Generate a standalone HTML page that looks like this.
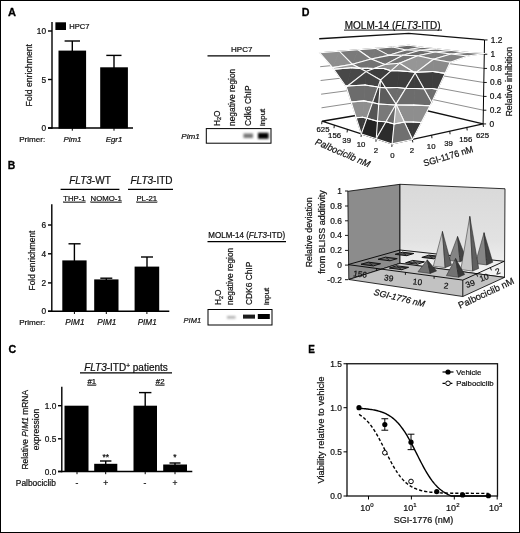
<!DOCTYPE html>
<html><head><meta charset="utf-8"><title>Figure</title>
<style>
html,body{margin:0;padding:0;background:#fff;}
body{width:520px;height:533px;overflow:hidden;font-family:"Liberation Sans",sans-serif;}
svg{display:block;filter:blur(0.3px);}
svg text{font-family:"Liberation Sans",sans-serif;stroke:#111;stroke-width:0.22px;}
svg text[font-weight="bold"]{stroke:#000;stroke-width:0.3px;}
</style></head><body>
<svg width="520" height="533" viewBox="0 0 520 533">
<rect x="0" y="0" width="520" height="533" fill="#fff"/>
<rect x="0.5" y="0.5" width="519" height="532" fill="none" stroke="#000" stroke-width="1" />
<text transform="translate(8 16.2) rotate(0) scale(0.955 1)" font-size="11.6" text-anchor="start" font-style="normal" font-weight="bold" fill="#000">A</text>
<line x1="52" y1="22" x2="52" y2="128.7" stroke="#000" stroke-width="1.4" />
<line x1="48" y1="128" x2="133" y2="128" stroke="#000" stroke-width="1.4" />
<line x1="72.3" y1="128" x2="72.3" y2="130.7" stroke="#000" stroke-width="1" />
<line x1="114" y1="128" x2="114" y2="130.7" stroke="#000" stroke-width="1" />
<line x1="48" y1="31" x2="52" y2="31" stroke="#000" stroke-width="1.4" />
<text x="46" y="34" font-size="8.3" text-anchor="end" font-weight="normal" font-style="normal" fill="#111" >10</text>
<line x1="48" y1="79.5" x2="52" y2="79.5" stroke="#000" stroke-width="1.4" />
<text x="46" y="82.5" font-size="8.3" text-anchor="end" font-weight="normal" font-style="normal" fill="#111" >5</text>
<line x1="48" y1="128" x2="52" y2="128" stroke="#000" stroke-width="1.4" />
<text x="46" y="131" font-size="8.3" text-anchor="end" font-weight="normal" font-style="normal" fill="#111" >0</text>
<text transform="translate(31.5 75.2) rotate(-90) scale(0.9274565727734365 1)" font-size="9.4" text-anchor="middle" font-style="normal" font-weight="normal" fill="#111">Fold enrichment</text>
<rect x="55.4" y="22.3" width="10.6" height="7.7" fill="#000" stroke="none" stroke-width="1" />
<text x="69.2" y="29.3" font-size="7.6" text-anchor="start" font-weight="normal" font-style="normal" fill="#111" >HPC7</text>
<rect x="58.5" y="50.6" width="27.6" height="78" fill="#000" stroke="none" stroke-width="1" />
<rect x="100.2" y="67.3" width="27.7" height="61" fill="#000" stroke="none" stroke-width="1" />
<line x1="72.3" y1="41" x2="72.3" y2="51" stroke="#000" stroke-width="1.4" />
<line x1="64.6" y1="41" x2="80" y2="41" stroke="#000" stroke-width="1.4" />
<line x1="114" y1="55.4" x2="114" y2="68" stroke="#000" stroke-width="1.4" />
<line x1="106.3" y1="55.4" x2="121.5" y2="55.4" stroke="#000" stroke-width="1.4" />
<text x="19.2" y="141.7" font-size="8.1" text-anchor="start" font-weight="normal" font-style="normal" fill="#111" >Primer:</text>
<text x="72.5" y="141.7" font-size="7.9" text-anchor="middle" font-weight="normal" font-style="italic" fill="#111" >Pim1</text>
<text x="114" y="141.7" font-size="7.9" text-anchor="middle" font-weight="normal" font-style="italic" fill="#111" >Egr1</text>
<text x="241.7" y="52" font-size="8.0" text-anchor="middle" font-weight="normal" font-style="normal" fill="#111" >HPC7</text>
<line x1="207.5" y1="55.8" x2="270" y2="55.8" stroke="#000" stroke-width="1.2" />
<text x="219.8" y="126" font-size="8.4" text-anchor="start" font-weight="normal" font-style="normal" fill="#111" transform="rotate(-90 219.8 126)" >H<tspan font-size="5.5" dy="1.5">2</tspan><tspan dy="-1.5">O</tspan></text>
<text x="234.8" y="126" font-size="8.4" text-anchor="start" font-weight="normal" font-style="normal" fill="#111" transform="rotate(-90 234.8 126)" >negative region</text>
<text x="250.5" y="126" font-size="8.4" text-anchor="start" font-weight="normal" font-style="normal" fill="#111" transform="rotate(-90 250.5 126)" >Cdk6 ChIP</text>
<text x="265.3" y="126" font-size="8.0" text-anchor="start" font-weight="normal" font-style="normal" fill="#111" transform="rotate(-90 265.3 126)" >input</text>
<rect x="206.3" y="128.6" width="64.7" height="14.6" fill="#fff" stroke="#000" stroke-width="1" />
<defs><filter id="bl" x="-30%" y="-60%" width="160%" height="220%"><feGaussianBlur stdDeviation="0.9"/></filter><filter id="bl2" x="-30%" y="-60%" width="160%" height="220%"><feGaussianBlur stdDeviation="0.75"/></filter></defs>
<rect x="243.5" y="133.5" width="9.5" height="4.5" fill="#777" stroke="none" stroke-width="1" filter="url(#bl)"/>
<rect x="258" y="132.8" width="10.6" height="6" fill="#000" stroke="none" stroke-width="1" filter="url(#bl)"/>
<text x="181.3" y="139" font-size="8.1" text-anchor="start" font-weight="normal" font-style="italic" fill="#111" >Pim1</text>
<text transform="translate(7.8 169.2) rotate(0) scale(0.9 1)" font-size="11.6" text-anchor="start" font-style="normal" font-weight="bold" fill="#000">B</text>
<text x="90" y="184" font-size="10" text-anchor="middle" font-weight="normal" font-style="normal" fill="#111" ><tspan font-style="italic">FLT3</tspan>-WT</text>
<line x1="60.6" y1="189.4" x2="119.4" y2="189.4" stroke="#000" stroke-width="1.3" />
<text x="151.5" y="184" font-size="10" text-anchor="middle" font-weight="normal" font-style="normal" fill="#111" ><tspan font-style="italic">FLT3</tspan>-ITD</text>
<line x1="128" y1="189.4" x2="173" y2="189.4" stroke="#000" stroke-width="1.3" />
<text x="74.4" y="200.8" font-size="7.8" text-anchor="middle" font-weight="normal" font-style="normal" fill="#111" text-decoration="underline">THP-1</text>
<text x="106.2" y="200.8" font-size="7.8" text-anchor="middle" font-weight="normal" font-style="normal" fill="#111" text-decoration="underline">NOMO-1</text>
<text x="146.8" y="200.8" font-size="7.8" text-anchor="middle" font-weight="normal" font-style="normal" fill="#111" text-decoration="underline">PL-21</text>
<line x1="51.8" y1="204.3" x2="51.8" y2="312" stroke="#000" stroke-width="1.4" />
<line x1="48" y1="311.3" x2="169.3" y2="311.3" stroke="#000" stroke-width="1.4" />
<line x1="74.4" y1="311.3" x2="74.4" y2="314" stroke="#000" stroke-width="1" />
<line x1="106.3" y1="311.3" x2="106.3" y2="314" stroke="#000" stroke-width="1" />
<line x1="146.9" y1="311.3" x2="146.9" y2="314" stroke="#000" stroke-width="1" />
<line x1="48" y1="225" x2="51.8" y2="225" stroke="#000" stroke-width="1.4" />
<text x="46" y="228" font-size="8.3" text-anchor="end" font-weight="normal" font-style="normal" fill="#111" >6</text>
<line x1="48" y1="253.8" x2="51.8" y2="253.8" stroke="#000" stroke-width="1.4" />
<text x="46" y="256.8" font-size="8.3" text-anchor="end" font-weight="normal" font-style="normal" fill="#111" >4</text>
<line x1="48" y1="282.9" x2="51.8" y2="282.9" stroke="#000" stroke-width="1.4" />
<text x="46" y="285.9" font-size="8.3" text-anchor="end" font-weight="normal" font-style="normal" fill="#111" >2</text>
<line x1="48" y1="311.3" x2="51.8" y2="311.3" stroke="#000" stroke-width="1.4" />
<text x="46" y="314.3" font-size="8.3" text-anchor="end" font-weight="normal" font-style="normal" fill="#111" >0</text>
<text transform="translate(35.2 260.5) rotate(-90) scale(0.8903583098624991 1)" font-size="9.4" text-anchor="middle" font-style="normal" font-weight="normal" fill="#111">Fold enrichment</text>
<rect x="62.3" y="260.4" width="24.3" height="51" fill="#000" stroke="none" stroke-width="1" />
<rect x="94.2" y="279.4" width="24.3" height="32" fill="#000" stroke="none" stroke-width="1" />
<rect x="134.6" y="266.6" width="24.6" height="45" fill="#000" stroke="none" stroke-width="1" />
<line x1="74.4" y1="243.8" x2="74.4" y2="261" stroke="#000" stroke-width="1.4" />
<line x1="68.5" y1="243.8" x2="80.6" y2="243.8" stroke="#000" stroke-width="1.4" />
<line x1="106.3" y1="278.2" x2="106.3" y2="280" stroke="#000" stroke-width="1.4" />
<line x1="100.3" y1="278.2" x2="112.3" y2="278.2" stroke="#000" stroke-width="1.4" />
<line x1="147" y1="257" x2="147" y2="267" stroke="#000" stroke-width="1.4" />
<line x1="141" y1="257" x2="153" y2="257" stroke="#000" stroke-width="1.4" />
<text x="19.2" y="325.1" font-size="8.1" text-anchor="start" font-weight="normal" font-style="normal" fill="#111" >Primer:</text>
<text x="74.9" y="324.8" font-size="8.2" text-anchor="middle" font-weight="normal" font-style="italic" fill="#111" >PIM1</text>
<text x="106.8" y="324.8" font-size="8.2" text-anchor="middle" font-weight="normal" font-style="italic" fill="#111" >PIM1</text>
<text x="147.2" y="324.8" font-size="8.2" text-anchor="middle" font-weight="normal" font-style="italic" fill="#111" >PIM1</text>
<text transform="translate(246.75 238) rotate(0) scale(0.9672562206280634 1)" font-size="8.3" text-anchor="middle" font-style="normal" font-weight="normal" fill="#111">MOLM-14 (<tspan font-style="italic">FLT3</tspan>-ITD)</text>
<line x1="207.5" y1="241.6" x2="286" y2="241.6" stroke="#000" stroke-width="1.2" />
<text x="221" y="305" font-size="8.4" text-anchor="start" font-weight="normal" font-style="normal" fill="#111" transform="rotate(-90 221 305)" >H<tspan font-size="5.5" dy="1.5">2</tspan><tspan dy="-1.5">O</tspan></text>
<text x="233.2" y="305" font-size="8.4" text-anchor="start" font-weight="normal" font-style="normal" fill="#111" transform="rotate(-90 233.2 305)" >negative region</text>
<text x="251.8" y="305" font-size="8.4" text-anchor="start" font-weight="normal" font-style="normal" fill="#111" transform="rotate(-90 251.8 305)" >CDK6 ChIP</text>
<text x="268.6" y="305" font-size="8.0" text-anchor="start" font-weight="normal" font-style="normal" fill="#111" transform="rotate(-90 268.6 305)" >input</text>
<rect x="208" y="309.5" width="64" height="15.5" fill="#fff" stroke="#000" stroke-width="1" />
<rect x="227" y="316" width="8.5" height="2.6" fill="#b0b0b0" stroke="none" stroke-width="1" filter="url(#bl)"/>
<rect x="243" y="314.6" width="12" height="4" fill="#1a1a1a" stroke="none" stroke-width="1" filter="url(#bl2)"/>
<rect x="257.8" y="314" width="12" height="5" fill="#000" stroke="none" stroke-width="1" filter="url(#bl2)"/>
<text transform="translate(183.6 323.4) rotate(0) scale(0.9256614512255757 1)" font-size="8.1" text-anchor="start" font-style="italic" font-weight="normal" fill="#111">PIM1</text>
<text transform="translate(8.5 353.2) rotate(0) scale(0.92 1)" font-size="11.6" text-anchor="start" font-style="normal" font-weight="bold" fill="#000">C</text>
<text x="126" y="371.3" font-size="10" text-anchor="middle" font-weight="normal" font-style="normal" fill="#111" ><tspan font-style="italic">FLT3</tspan>-ITD<tspan font-size="6.5" dy="-3">+</tspan><tspan dy="3"> patients</tspan></text>
<line x1="80" y1="372.8" x2="172" y2="372.8" stroke="#000" stroke-width="1.2" />
<text x="91.8" y="383.8" font-size="7.8" text-anchor="middle" font-weight="normal" font-style="normal" fill="#111" text-decoration="underline">#1</text>
<text x="160.2" y="383.8" font-size="7.8" text-anchor="middle" font-weight="normal" font-style="normal" fill="#111" text-decoration="underline">#2</text>
<line x1="61.8" y1="386.8" x2="61.8" y2="472.2" stroke="#000" stroke-width="1.4" />
<line x1="58" y1="471.5" x2="192.3" y2="471.5" stroke="#000" stroke-width="1.4" />
<line x1="77" y1="471.5" x2="77" y2="474.2" stroke="#000" stroke-width="1" />
<line x1="105.7" y1="471.5" x2="105.7" y2="474.2" stroke="#000" stroke-width="1" />
<line x1="145.2" y1="471.5" x2="145.2" y2="474.2" stroke="#000" stroke-width="1" />
<line x1="175" y1="471.5" x2="175" y2="474.2" stroke="#000" stroke-width="1" />
<line x1="58" y1="405.7" x2="61.8" y2="405.7" stroke="#000" stroke-width="1.4" />
<text x="56.3" y="408.7" font-size="8.3" text-anchor="end" font-weight="normal" font-style="normal" fill="#111" >1.0</text>
<line x1="58" y1="438.8" x2="61.8" y2="438.8" stroke="#000" stroke-width="1.4" />
<text x="56.3" y="441.8" font-size="8.3" text-anchor="end" font-weight="normal" font-style="normal" fill="#111" >0.5</text>
<line x1="58" y1="471.5" x2="61.8" y2="471.5" stroke="#000" stroke-width="1.4" />
<text x="56.3" y="474.5" font-size="8.3" text-anchor="end" font-weight="normal" font-style="normal" fill="#111" >0.0</text>
<rect x="64.5" y="405.7" width="24" height="66" fill="#000" stroke="none" stroke-width="1" />
<rect x="94.2" y="463.8" width="23.1" height="8" fill="#000" stroke="none" stroke-width="1" />
<rect x="133.5" y="405.7" width="23.5" height="66" fill="#000" stroke="none" stroke-width="1" />
<rect x="163.2" y="464.5" width="23.8" height="7.2" fill="#000" stroke="none" stroke-width="1" />
<line x1="105.7" y1="461" x2="105.7" y2="464" stroke="#000" stroke-width="1.4" />
<line x1="100" y1="461" x2="111.4" y2="461" stroke="#000" stroke-width="1.4" />
<line x1="145.2" y1="392.6" x2="145.2" y2="406" stroke="#000" stroke-width="1.4" />
<line x1="139" y1="392.6" x2="151.4" y2="392.6" stroke="#000" stroke-width="1.4" />
<line x1="175" y1="463" x2="175" y2="465" stroke="#000" stroke-width="1.4" />
<line x1="169.5" y1="463" x2="180.5" y2="463" stroke="#000" stroke-width="1.4" />
<text x="105.8" y="460.3" font-size="8.5" text-anchor="middle" font-weight="normal" font-style="normal" fill="#111" >**</text>
<text x="175" y="460" font-size="8.5" text-anchor="middle" font-weight="normal" font-style="normal" fill="#111" >*</text>
<text x="15.8" y="486" font-size="8.4" text-anchor="start" font-weight="normal" font-style="normal" fill="#111" >Palbociclib</text>
<text x="77" y="486" font-size="8.5" text-anchor="middle" font-weight="normal" font-style="normal" fill="#111" >-</text>
<text x="105.8" y="486" font-size="8.5" text-anchor="middle" font-weight="normal" font-style="normal" fill="#111" >+</text>
<text x="145" y="486" font-size="8.5" text-anchor="middle" font-weight="normal" font-style="normal" fill="#111" >-</text>
<text x="175" y="486" font-size="8.5" text-anchor="middle" font-weight="normal" font-style="normal" fill="#111" >+</text>
<text transform="translate(27.8 429.8) rotate(-90) scale(0.87 1)" font-size="9.7" text-anchor="middle" font-style="normal" font-weight="normal" fill="#111">Relative <tspan font-style="italic">PIM1</tspan> mRNA</text>
<text transform="translate(39.2 429.5) rotate(-90) scale(0.885 1)" font-size="9.7" text-anchor="middle" font-style="normal" font-weight="normal" fill="#111">expression</text>
<text transform="translate(301.8 16.2) rotate(0) scale(0.92 1)" font-size="11.6" text-anchor="start" font-style="normal" font-weight="bold" fill="#000">D</text>
<text x="392.7" y="28.8" font-size="10" text-anchor="middle" font-weight="normal" font-style="normal" fill="#111" >MOLM-14 (<tspan font-style="italic">FLT3</tspan>-ITD)</text>
<line x1="344" y1="30.1" x2="442" y2="30.1" stroke="#000" stroke-width="0.9" />
<polyline points="321.5,107.8 409.0,94.5 483.3,110.2" fill="none" stroke="#8e8e8e" stroke-width="1.0"/>
<polyline points="321.1,94.2 409.0,82.5 483.6,96.4" fill="none" stroke="#8e8e8e" stroke-width="1.0"/>
<polyline points="320.6,80.5 408.9,70.3 483.8,82.5" fill="none" stroke="#8e8e8e" stroke-width="1.0"/>
<polyline points="320.2,66.7 408.8,58.1 484.1,68.4" fill="none" stroke="#8e8e8e" stroke-width="1.0"/>
<polyline points="319.7,52.8 408.7,45.8 484.3,54.2" fill="none" stroke="#8e8e8e" stroke-width="1.0"/>
<polyline points="319.2,38.8 408.7,33.4 484.5,39.9" fill="none" stroke="#111" stroke-width="1.4"/>
<polygon points="322.0,121.2 409.1,106.5 483.1,123.9 392.1,143.9" fill="none" stroke="#111" stroke-width="1.4"/>
<line x1="483.1079891001212" y1="123.92278115303093" x2="484.53350527819515" y2="39.9454364604878" stroke="#000" stroke-width="1" />
<line x1="483.1079891001212" y1="123.92278115303093" x2="486.1079891001212" y2="123.92278115303093" stroke="#000" stroke-width="0.9" />
<text x="489.4079891001212" y="126.92278115303093" font-size="8.4" text-anchor="start" font-weight="normal" font-style="normal" fill="#111" >0</text>
<line x1="483.3404644077085" y1="110.22763034516905" x2="486.3404644077085" y2="110.22763034516905" stroke="#000" stroke-width="0.9" />
<text x="489.6404644077085" y="113.22763034516905" font-size="8.4" text-anchor="start" font-weight="normal" font-style="normal" fill="#111" >0.2</text>
<line x1="483.57494867230804" y1="96.41413161669419" x2="486.57494867230804" y2="96.41413161669419" stroke="#000" stroke-width="0.9" />
<text x="489.87494867230805" y="99.41413161669419" font-size="8.4" text-anchor="start" font-weight="normal" font-style="normal" fill="#111" >0.4</text>
<line x1="483.8114680478087" y1="82.48074423856984" x2="486.8114680478087" y2="82.48074423856984" stroke="#000" stroke-width="0.9" />
<text x="490.1114680478087" y="85.48074423856984" font-size="8.4" text-anchor="start" font-weight="normal" font-style="normal" fill="#111" >0.6</text>
<line x1="484.05004914406265" y1="68.42590062093238" x2="487.05004914406265" y2="68.42590062093238" stroke="#000" stroke-width="0.9" />
<text x="490.35004914406267" y="71.42590062093238" font-size="8.4" text-anchor="start" font-weight="normal" font-style="normal" fill="#111" >0.8</text>
<line x1="484.2907190368646" y1="54.24800572516932" x2="487.2907190368646" y2="54.24800572516932" stroke="#000" stroke-width="0.9" />
<text x="490.5907190368646" y="57.24800572516932" font-size="8.4" text-anchor="start" font-weight="normal" font-style="normal" fill="#111" >1</text>
<line x1="484.53350527819515" y1="39.94543646048777" x2="487.53350527819515" y2="39.94543646048777" stroke="#000" stroke-width="0.9" />
<text x="490.83350527819516" y="42.94543646048777" font-size="8.4" text-anchor="start" font-weight="normal" font-style="normal" fill="#111" >1.2</text>
<text transform="translate(512.1 81.7) rotate(-90) scale(0.9386523633925578 1)" font-size="9.5" text-anchor="middle" font-style="normal" font-weight="normal" fill="#111">Relative inhibition</text>
<line x1="392.12424158744284" y1="143.8838976368649" x2="391.8242415874428" y2="146.8838976368649" stroke="#000" stroke-width="0.9" />
<text x="392.4" y="158.20000000000002" font-size="7.8" text-anchor="middle" font-weight="normal" font-style="normal" fill="#111" >0</text>
<line x1="376.2112754337737" y1="138.7449166582784" x2="375.9112754337737" y2="141.7449166582784" stroke="#000" stroke-width="0.9" />
<text x="375.9" y="152.5" font-size="7.8" text-anchor="middle" font-weight="normal" font-style="normal" fill="#111" >2</text>
<line x1="361.3331656944002" y1="133.94013531144364" x2="361.03316569440017" y2="136.94013531144364" stroke="#000" stroke-width="0.9" />
<text x="361" y="146.8" font-size="7.8" text-anchor="middle" font-weight="normal" font-style="normal" fill="#111" >10</text>
<line x1="347.39214285375033" y1="129.43797961600032" x2="347.0921428537503" y2="132.43797961600032" stroke="#000" stroke-width="0.9" />
<text x="346.7" y="142.60000000000002" font-size="7.8" text-anchor="middle" font-weight="normal" font-style="normal" fill="#111" >39</text>
<line x1="334.30237726757275" y1="125.21073148941443" x2="334.00237726757274" y2="128.21073148941443" stroke="#000" stroke-width="0.9" />
<text x="334.6" y="138.3" font-size="7.8" text-anchor="middle" font-weight="normal" font-style="normal" fill="#111" >156</text>
<line x1="321.98821050061076" y1="121.23395756986658" x2="321.68821050061075" y2="124.23395756986658" stroke="#000" stroke-width="0.9" />
<text x="323" y="131.60000000000002" font-size="7.8" text-anchor="middle" font-weight="normal" font-style="normal" fill="#111" >625</text>
<line x1="412.4758880226422" y1="139.4189069518614" x2="412.7758880226422" y2="142.4189069518614" stroke="#000" stroke-width="0.9" />
<text x="411.9" y="153.20000000000002" font-size="7.8" text-anchor="middle" font-weight="normal" font-style="normal" fill="#111" >2</text>
<line x1="431.6571423691084" y1="135.21069105855025" x2="431.9571423691084" y2="138.21069105855025" stroke="#000" stroke-width="0.9" />
<text x="431.2" y="149.0" font-size="7.8" text-anchor="middle" font-weight="normal" font-style="normal" fill="#111" >10</text>
<line x1="449.7661438980357" y1="131.23771897499796" x2="450.0661438980357" y2="134.23771897499796" stroke="#000" stroke-width="0.9" />
<text x="448.5" y="145.8" font-size="7.8" text-anchor="middle" font-weight="normal" font-style="normal" fill="#111" >39</text>
<line x1="466.8903580379456" y1="127.48080147615315" x2="467.1903580379456" y2="130.48080147615315" stroke="#000" stroke-width="0.9" />
<text x="465.8" y="141.70000000000002" font-size="7.8" text-anchor="middle" font-weight="normal" font-style="normal" fill="#111" >156</text>
<line x1="483.1079891001212" y1="123.92278115303093" x2="483.4079891001212" y2="126.92278115303093" stroke="#000" stroke-width="0.9" />
<text x="482.5" y="137.8" font-size="7.8" text-anchor="middle" font-weight="normal" font-style="normal" fill="#111" >625</text>
<text transform="translate(341.5 155.8) rotate(23.3) scale(0.9585707987001324 1)" font-size="9.5" text-anchor="middle" font-style="italic" font-weight="normal" fill="#111">Palbociclib nM</text>
<text transform="translate(449.2 159.2) rotate(-16.7) scale(0.9428170882079262 1)" font-size="9.3" text-anchor="middle" font-style="normal" font-weight="normal" fill="#111">SGI-1176 nM</text>
<polygon points="405.97,49.94 392.63,47.06 408.73,45.18" fill="#6a6a6a" stroke="#6a6a6a" stroke-width="0.8" />
<polygon points="405.97,49.94 408.73,45.18 422.18,47.30" fill="#6a6a6a" stroke="#6a6a6a" stroke-width="0.8" />
<line x1="405.97" y1="49.94" x2="392.63" y2="47.06" stroke="#ffffff" stroke-width="1.05" stroke-linecap="round"/>
<line x1="392.63" y1="47.06" x2="408.73" y2="45.18" stroke="#ffffff" stroke-width="1.05" stroke-linecap="round"/>
<line x1="408.73" y1="45.18" x2="422.18" y2="47.3" stroke="#ffffff" stroke-width="1.05" stroke-linecap="round"/>
<line x1="422.18" y1="47.3" x2="405.97" y2="49.94" stroke="#ffffff" stroke-width="1.05" stroke-linecap="round"/>
<polygon points="420.07,50.31 405.97,49.94 422.18,47.30" fill="#686868" stroke="#686868" stroke-width="0.8" />
<polygon points="420.07,50.31 422.18,47.30 436.40,48.89" fill="#686868" stroke="#686868" stroke-width="0.8" />
<line x1="420.07" y1="50.31" x2="405.97" y2="49.94" stroke="#ffffff" stroke-width="1.05" stroke-linecap="round"/>
<line x1="405.97" y1="49.94" x2="422.18" y2="47.3" stroke="#ffffff" stroke-width="1.05" stroke-linecap="round"/>
<line x1="422.18" y1="47.3" x2="436.4" y2="48.89" stroke="#ffffff" stroke-width="1.05" stroke-linecap="round"/>
<line x1="436.4" y1="48.89" x2="420.07" y2="50.31" stroke="#ffffff" stroke-width="1.05" stroke-linecap="round"/>
<polygon points="388.99,55.37 375.74,48.39 392.63,47.06" fill="#6e6e6e" stroke="#6e6e6e" stroke-width="0.8" />
<polygon points="388.99,55.37 392.63,47.06 405.97,49.94" fill="#6e6e6e" stroke="#6e6e6e" stroke-width="0.8" />
<line x1="388.99" y1="55.37" x2="375.74" y2="48.39" stroke="#ffffff" stroke-width="1.05" stroke-linecap="round"/>
<line x1="375.74" y1="48.39" x2="392.63" y2="47.06" stroke="#ffffff" stroke-width="1.05" stroke-linecap="round"/>
<line x1="392.63" y1="47.06" x2="405.97" y2="49.94" stroke="#ffffff" stroke-width="1.05" stroke-linecap="round"/>
<line x1="405.97" y1="49.94" x2="388.99" y2="55.37" stroke="#ffffff" stroke-width="1.05" stroke-linecap="round"/>
<polygon points="435.01,52.08 420.07,50.31 436.40,48.89" fill="#727272" stroke="#727272" stroke-width="0.8" />
<polygon points="435.01,52.08 436.40,48.89 451.43,50.57" fill="#727272" stroke="#727272" stroke-width="0.8" />
<line x1="435.01" y1="52.08" x2="420.07" y2="50.31" stroke="#ffffff" stroke-width="1.05" stroke-linecap="round"/>
<line x1="420.07" y1="50.31" x2="436.4" y2="48.89" stroke="#ffffff" stroke-width="1.05" stroke-linecap="round"/>
<line x1="436.4" y1="48.89" x2="451.43" y2="50.57" stroke="#ffffff" stroke-width="1.05" stroke-linecap="round"/>
<line x1="451.43" y1="50.57" x2="435.01" y2="52.08" stroke="#ffffff" stroke-width="1.05" stroke-linecap="round"/>
<polygon points="402.92,55.23 388.99,55.37 405.97,49.94" fill="#707070" stroke="#707070" stroke-width="0.8" />
<polygon points="402.92,55.23 405.97,49.94 420.07,50.31" fill="#707070" stroke="#707070" stroke-width="0.8" />
<line x1="402.92" y1="55.23" x2="388.99" y2="55.37" stroke="#ffffff" stroke-width="1.05" stroke-linecap="round"/>
<line x1="388.99" y1="55.37" x2="405.97" y2="49.94" stroke="#ffffff" stroke-width="1.05" stroke-linecap="round"/>
<line x1="405.97" y1="49.94" x2="420.07" y2="50.31" stroke="#ffffff" stroke-width="1.05" stroke-linecap="round"/>
<line x1="420.07" y1="50.31" x2="402.92" y2="55.23" stroke="#ffffff" stroke-width="1.05" stroke-linecap="round"/>
<polygon points="371.13,59.03 358.00,49.78 375.74,48.39" fill="#767676" stroke="#767676" stroke-width="0.8" />
<polygon points="371.13,59.03 375.74,48.39 388.99,55.37" fill="#767676" stroke="#767676" stroke-width="0.8" />
<line x1="371.13" y1="59.03" x2="358.0" y2="49.78" stroke="#ffffff" stroke-width="1.05" stroke-linecap="round"/>
<line x1="358.0" y1="49.78" x2="375.74" y2="48.39" stroke="#ffffff" stroke-width="1.05" stroke-linecap="round"/>
<line x1="375.74" y1="48.39" x2="388.99" y2="55.37" stroke="#ffffff" stroke-width="1.05" stroke-linecap="round"/>
<line x1="388.99" y1="55.37" x2="371.13" y2="59.03" stroke="#ffffff" stroke-width="1.05" stroke-linecap="round"/>
<polygon points="450.87,53.95 435.01,52.08 451.43,50.57" fill="#707070" stroke="#707070" stroke-width="0.8" />
<polygon points="450.87,53.95 451.43,50.57 467.37,52.36" fill="#707070" stroke="#707070" stroke-width="0.8" />
<line x1="450.87" y1="53.95" x2="435.01" y2="52.08" stroke="#ffffff" stroke-width="1.05" stroke-linecap="round"/>
<line x1="435.01" y1="52.08" x2="451.43" y2="50.57" stroke="#ffffff" stroke-width="1.05" stroke-linecap="round"/>
<line x1="451.43" y1="50.57" x2="467.37" y2="52.36" stroke="#ffffff" stroke-width="1.05" stroke-linecap="round"/>
<line x1="467.37" y1="52.36" x2="450.87" y2="53.95" stroke="#ffffff" stroke-width="1.05" stroke-linecap="round"/>
<polygon points="417.71,55.78 402.92,55.23 420.07,50.31" fill="#6c6c6c" stroke="#6c6c6c" stroke-width="0.8" />
<polygon points="417.71,55.78 420.07,50.31 435.01,52.08" fill="#6c6c6c" stroke="#6c6c6c" stroke-width="0.8" />
<line x1="417.71" y1="55.78" x2="402.92" y2="55.23" stroke="#ffffff" stroke-width="1.05" stroke-linecap="round"/>
<line x1="402.92" y1="55.23" x2="420.07" y2="50.31" stroke="#ffffff" stroke-width="1.05" stroke-linecap="round"/>
<line x1="420.07" y1="50.31" x2="435.01" y2="52.08" stroke="#ffffff" stroke-width="1.05" stroke-linecap="round"/>
<line x1="435.01" y1="52.08" x2="417.71" y2="55.78" stroke="#ffffff" stroke-width="1.05" stroke-linecap="round"/>
<polygon points="384.94,64.60 371.13,59.03 388.99,55.37" fill="#6c6c6c" stroke="#6c6c6c" stroke-width="0.8" />
<polygon points="384.94,64.60 388.99,55.37 402.92,55.23" fill="#6c6c6c" stroke="#6c6c6c" stroke-width="0.8" />
<line x1="384.94" y1="64.6" x2="371.13" y2="59.03" stroke="#ffffff" stroke-width="1.05" stroke-linecap="round"/>
<line x1="371.13" y1="59.03" x2="388.99" y2="55.37" stroke="#ffffff" stroke-width="1.05" stroke-linecap="round"/>
<line x1="388.99" y1="55.37" x2="402.92" y2="55.23" stroke="#ffffff" stroke-width="1.05" stroke-linecap="round"/>
<line x1="402.92" y1="55.23" x2="384.94" y2="64.6" stroke="#ffffff" stroke-width="1.05" stroke-linecap="round"/>
<polygon points="352.38,64.27 339.34,51.25 358.00,49.78" fill="#7a7a7a" stroke="#7a7a7a" stroke-width="0.8" />
<polygon points="352.38,64.27 358.00,49.78 371.13,59.03" fill="#7a7a7a" stroke="#7a7a7a" stroke-width="0.8" />
<line x1="352.38" y1="64.27" x2="339.34" y2="51.25" stroke="#ffffff" stroke-width="1.05" stroke-linecap="round"/>
<line x1="339.34" y1="51.25" x2="358.0" y2="49.78" stroke="#ffffff" stroke-width="1.05" stroke-linecap="round"/>
<line x1="358.0" y1="49.78" x2="371.13" y2="59.03" stroke="#ffffff" stroke-width="1.05" stroke-linecap="round"/>
<line x1="371.13" y1="59.03" x2="352.38" y2="64.27" stroke="#ffffff" stroke-width="1.05" stroke-linecap="round"/>
<polygon points="467.74,55.95 450.87,53.95 467.37,52.36" fill="#787878" stroke="#787878" stroke-width="0.8" />
<polygon points="467.74,55.95 467.37,52.36 484.30,53.54" fill="#787878" stroke="#787878" stroke-width="0.8" />
<line x1="467.74" y1="55.95" x2="450.87" y2="53.95" stroke="#ffffff" stroke-width="1.05" stroke-linecap="round"/>
<line x1="450.87" y1="53.95" x2="467.37" y2="52.36" stroke="#ffffff" stroke-width="1.05" stroke-linecap="round"/>
<line x1="467.37" y1="52.36" x2="484.3" y2="53.54" stroke="#ffffff" stroke-width="1.05" stroke-linecap="round"/>
<line x1="484.3" y1="53.54" x2="467.74" y2="55.95" stroke="#ffffff" stroke-width="1.05" stroke-linecap="round"/>
<polygon points="433.46,59.28 417.71,55.78 435.01,52.08" fill="#7c7c7c" stroke="#7c7c7c" stroke-width="0.8" />
<polygon points="433.46,59.28 435.01,52.08 450.87,53.95" fill="#7c7c7c" stroke="#7c7c7c" stroke-width="0.8" />
<line x1="433.46" y1="59.28" x2="417.71" y2="55.78" stroke="#ffffff" stroke-width="1.05" stroke-linecap="round"/>
<line x1="417.71" y1="55.78" x2="435.01" y2="52.08" stroke="#ffffff" stroke-width="1.05" stroke-linecap="round"/>
<line x1="435.01" y1="52.08" x2="450.87" y2="53.95" stroke="#ffffff" stroke-width="1.05" stroke-linecap="round"/>
<line x1="450.87" y1="53.95" x2="433.46" y2="59.28" stroke="#ffffff" stroke-width="1.05" stroke-linecap="round"/>
<polygon points="399.52,63.30 384.94,64.60 402.92,55.23" fill="#747474" stroke="#747474" stroke-width="0.8" />
<polygon points="399.52,63.30 402.92,55.23 417.71,55.78" fill="#747474" stroke="#747474" stroke-width="0.8" />
<line x1="399.52" y1="63.3" x2="384.94" y2="64.6" stroke="#ffffff" stroke-width="1.05" stroke-linecap="round"/>
<line x1="384.94" y1="64.6" x2="402.92" y2="55.23" stroke="#ffffff" stroke-width="1.05" stroke-linecap="round"/>
<line x1="402.92" y1="55.23" x2="417.71" y2="55.78" stroke="#ffffff" stroke-width="1.05" stroke-linecap="round"/>
<line x1="417.71" y1="55.78" x2="399.52" y2="63.3" stroke="#ffffff" stroke-width="1.05" stroke-linecap="round"/>
<polygon points="366.02,71.58 360.08,68.39 367.35,68.31" fill="#3e3e3e" stroke="#3e3e3e" stroke-width="0.8" />
<polygon points="360.08,68.39 352.38,64.27 371.13,59.03 367.35,68.31" fill="#727272" stroke="#727272" stroke-width="0.8" />
<polygon points="366.02,71.58 367.35,68.31 374.25,68.54" fill="#3e3e3e" stroke="#3e3e3e" stroke-width="0.8" />
<polygon points="367.35,68.31 371.13,59.03 384.94,64.60 374.25,68.54" fill="#727272" stroke="#727272" stroke-width="0.8" />
<line x1="360.08" y1="68.39" x2="367.35" y2="68.31" stroke="#ffffff" stroke-width="1.05" stroke-linecap="round"/>
<line x1="367.35" y1="68.31" x2="360.08" y2="68.39" stroke="#ffffff" stroke-width="1.05" stroke-linecap="round"/>
<line x1="367.35" y1="68.31" x2="374.25" y2="68.54" stroke="#ffffff" stroke-width="1.05" stroke-linecap="round"/>
<line x1="374.25" y1="68.54" x2="367.35" y2="68.31" stroke="#ffffff" stroke-width="1.05" stroke-linecap="round"/>
<line x1="366.02" y1="71.58" x2="352.38" y2="64.27" stroke="#ffffff" stroke-width="1.05" stroke-linecap="round"/>
<line x1="352.38" y1="64.27" x2="371.13" y2="59.03" stroke="#ffffff" stroke-width="1.05" stroke-linecap="round"/>
<line x1="371.13" y1="59.03" x2="384.94" y2="64.6" stroke="#ffffff" stroke-width="1.05" stroke-linecap="round"/>
<line x1="384.94" y1="64.6" x2="366.02" y2="71.58" stroke="#ffffff" stroke-width="1.05" stroke-linecap="round"/>
<polygon points="332.59,67.64 319.69,52.80 339.34,51.25" fill="#8e8e8e" stroke="#8e8e8e" stroke-width="0.8" />
<polygon points="332.59,67.64 339.34,51.25 352.38,64.27" fill="#8e8e8e" stroke="#8e8e8e" stroke-width="0.8" />
<line x1="332.59" y1="67.64" x2="319.69" y2="52.8" stroke="#ffffff" stroke-width="1.05" stroke-linecap="round"/>
<line x1="319.69" y1="52.8" x2="339.34" y2="51.25" stroke="#ffffff" stroke-width="1.05" stroke-linecap="round"/>
<line x1="339.34" y1="51.25" x2="352.38" y2="64.27" stroke="#ffffff" stroke-width="1.05" stroke-linecap="round"/>
<line x1="352.38" y1="64.27" x2="332.59" y2="67.64" stroke="#ffffff" stroke-width="1.05" stroke-linecap="round"/>
<polygon points="450.22,62.25 433.46,59.28 450.87,53.95" fill="#828282" stroke="#828282" stroke-width="0.8" />
<polygon points="450.22,62.25 450.87,53.95 467.74,55.95" fill="#828282" stroke="#828282" stroke-width="0.8" />
<line x1="450.22" y1="62.25" x2="433.46" y2="59.28" stroke="#ffffff" stroke-width="1.05" stroke-linecap="round"/>
<line x1="433.46" y1="59.28" x2="450.87" y2="53.95" stroke="#ffffff" stroke-width="1.05" stroke-linecap="round"/>
<line x1="450.87" y1="53.95" x2="467.74" y2="55.95" stroke="#ffffff" stroke-width="1.05" stroke-linecap="round"/>
<line x1="467.74" y1="55.95" x2="450.22" y2="62.25" stroke="#ffffff" stroke-width="1.05" stroke-linecap="round"/>
<polygon points="415.13,73.07 413.52,72.07 415.28,72.06" fill="#3e3e3e" stroke="#3e3e3e" stroke-width="0.8" />
<polygon points="413.52,72.07 399.52,63.30 417.71,55.78 415.28,72.06" fill="#969696" stroke="#969696" stroke-width="0.8" />
<polygon points="415.13,73.07 415.28,72.06 416.30,72.19" fill="#3e3e3e" stroke="#3e3e3e" stroke-width="0.8" />
<polygon points="415.28,72.06 417.71,55.78 433.46,59.28 416.30,72.19" fill="#969696" stroke="#969696" stroke-width="0.8" />
<line x1="413.52" y1="72.07" x2="415.28" y2="72.06" stroke="#ffffff" stroke-width="1.05" stroke-linecap="round"/>
<line x1="415.28" y1="72.06" x2="413.52" y2="72.07" stroke="#ffffff" stroke-width="1.05" stroke-linecap="round"/>
<line x1="415.28" y1="72.06" x2="416.3" y2="72.19" stroke="#ffffff" stroke-width="1.05" stroke-linecap="round"/>
<line x1="416.3" y1="72.19" x2="415.28" y2="72.06" stroke="#ffffff" stroke-width="1.05" stroke-linecap="round"/>
<line x1="415.13" y1="73.07" x2="399.52" y2="63.3" stroke="#ffffff" stroke-width="1.05" stroke-linecap="round"/>
<line x1="399.52" y1="63.3" x2="417.71" y2="55.78" stroke="#ffffff" stroke-width="1.05" stroke-linecap="round"/>
<line x1="417.71" y1="55.78" x2="433.46" y2="59.28" stroke="#ffffff" stroke-width="1.05" stroke-linecap="round"/>
<line x1="433.46" y1="59.28" x2="415.13" y2="73.07" stroke="#ffffff" stroke-width="1.05" stroke-linecap="round"/>
<polygon points="380.50,80.06 366.02,71.58 374.25,68.54 383.81,68.56" fill="#3e3e3e" stroke="#3e3e3e" stroke-width="0.8" />
<polygon points="374.25,68.54 384.94,64.60 383.81,68.56" fill="#909090" stroke="#909090" stroke-width="0.8" />
<polygon points="380.50,80.06 383.81,68.56 391.07,70.75" fill="#3e3e3e" stroke="#3e3e3e" stroke-width="0.8" />
<polygon points="383.81,68.56 384.94,64.60 399.52,63.30 391.07,70.75" fill="#909090" stroke="#909090" stroke-width="0.8" />
<line x1="374.25" y1="68.54" x2="383.81" y2="68.56" stroke="#ffffff" stroke-width="1.05" stroke-linecap="round"/>
<line x1="383.81" y1="68.56" x2="374.25" y2="68.54" stroke="#ffffff" stroke-width="1.05" stroke-linecap="round"/>
<line x1="383.81" y1="68.56" x2="391.07" y2="70.75" stroke="#ffffff" stroke-width="1.05" stroke-linecap="round"/>
<line x1="391.07" y1="70.75" x2="383.81" y2="68.56" stroke="#ffffff" stroke-width="1.05" stroke-linecap="round"/>
<line x1="380.5" y1="80.06" x2="366.02" y2="71.58" stroke="#ffffff" stroke-width="1.05" stroke-linecap="round"/>
<line x1="366.02" y1="71.58" x2="384.94" y2="64.6" stroke="#ffffff" stroke-width="1.05" stroke-linecap="round"/>
<line x1="384.94" y1="64.6" x2="399.52" y2="63.3" stroke="#ffffff" stroke-width="1.05" stroke-linecap="round"/>
<line x1="399.52" y1="63.3" x2="380.5" y2="80.06" stroke="#ffffff" stroke-width="1.05" stroke-linecap="round"/>
<polygon points="346.30,86.97 345.69,86.11 346.56,86.01" fill="#6c6c6c" stroke="#6c6c6c" stroke-width="0.8" />
<polygon points="345.69,86.11 333.75,69.28 351.45,67.74 346.56,86.01" fill="#484848" stroke="#484848" stroke-width="0.8" />
<polygon points="333.75,69.28 332.59,67.64 352.38,64.27 351.45,67.74" fill="#9a9a9a" stroke="#9a9a9a" stroke-width="0.8" />
<polygon points="346.30,86.97 346.56,86.01 347.42,86.09" fill="#6c6c6c" stroke="#6c6c6c" stroke-width="0.8" />
<polygon points="346.56,86.01 351.45,67.74 360.08,68.39 366.02,71.58 347.42,86.09" fill="#484848" stroke="#484848" stroke-width="0.8" />
<polygon points="351.45,67.74 352.38,64.27 360.08,68.39" fill="#9a9a9a" stroke="#9a9a9a" stroke-width="0.8" />
<line x1="345.69" y1="86.11" x2="346.56" y2="86.01" stroke="#ffffff" stroke-width="1.05" stroke-linecap="round"/>
<line x1="333.75" y1="69.28" x2="351.45" y2="67.74" stroke="#ffffff" stroke-width="1.05" stroke-linecap="round"/>
<line x1="346.56" y1="86.01" x2="345.69" y2="86.11" stroke="#ffffff" stroke-width="1.05" stroke-linecap="round"/>
<line x1="351.45" y1="67.74" x2="333.75" y2="69.28" stroke="#ffffff" stroke-width="1.05" stroke-linecap="round"/>
<line x1="346.56" y1="86.01" x2="347.42" y2="86.09" stroke="#ffffff" stroke-width="1.05" stroke-linecap="round"/>
<line x1="351.45" y1="67.74" x2="360.08" y2="68.39" stroke="#ffffff" stroke-width="1.05" stroke-linecap="round"/>
<line x1="347.42" y1="86.09" x2="346.56" y2="86.01" stroke="#ffffff" stroke-width="1.05" stroke-linecap="round"/>
<line x1="360.08" y1="68.39" x2="351.45" y2="67.74" stroke="#ffffff" stroke-width="1.05" stroke-linecap="round"/>
<line x1="346.3" y1="86.97" x2="332.59" y2="67.64" stroke="#ffffff" stroke-width="1.05" stroke-linecap="round"/>
<line x1="332.59" y1="67.64" x2="352.38" y2="64.27" stroke="#ffffff" stroke-width="1.05" stroke-linecap="round"/>
<line x1="352.38" y1="64.27" x2="366.02" y2="71.58" stroke="#ffffff" stroke-width="1.05" stroke-linecap="round"/>
<line x1="366.02" y1="71.58" x2="346.3" y2="86.97" stroke="#ffffff" stroke-width="1.05" stroke-linecap="round"/>
<polygon points="431.68,102.40 424.01,88.82 432.26,88.41" fill="#6c6c6c" stroke="#6c6c6c" stroke-width="0.8" />
<polygon points="424.01,88.82 415.13,73.07 416.30,72.19 432.95,71.53 432.26,88.41" fill="#3e3e3e" stroke="#3e3e3e" stroke-width="0.8" />
<polygon points="416.30,72.19 433.46,59.28 432.95,71.53" fill="#8a8a8a" stroke="#8a8a8a" stroke-width="0.8" />
<polygon points="431.68,102.40 432.26,88.41 437.68,89.40" fill="#6c6c6c" stroke="#6c6c6c" stroke-width="0.8" />
<polygon points="432.26,88.41 432.95,71.53 445.09,73.36 437.68,89.40" fill="#3e3e3e" stroke="#3e3e3e" stroke-width="0.8" />
<polygon points="432.95,71.53 433.46,59.28 450.22,62.25 445.09,73.36" fill="#8a8a8a" stroke="#8a8a8a" stroke-width="0.8" />
<line x1="424.01" y1="88.82" x2="432.26" y2="88.41" stroke="#ffffff" stroke-width="1.05" stroke-linecap="round"/>
<line x1="416.3" y1="72.19" x2="432.95" y2="71.53" stroke="#ffffff" stroke-width="1.05" stroke-linecap="round"/>
<line x1="432.26" y1="88.41" x2="424.01" y2="88.82" stroke="#ffffff" stroke-width="1.05" stroke-linecap="round"/>
<line x1="432.95" y1="71.53" x2="416.3" y2="72.19" stroke="#ffffff" stroke-width="1.05" stroke-linecap="round"/>
<line x1="432.26" y1="88.41" x2="437.68" y2="89.4" stroke="#ffffff" stroke-width="1.05" stroke-linecap="round"/>
<line x1="432.95" y1="71.53" x2="445.09" y2="73.36" stroke="#ffffff" stroke-width="1.05" stroke-linecap="round"/>
<line x1="437.68" y1="89.4" x2="432.26" y2="88.41" stroke="#ffffff" stroke-width="1.05" stroke-linecap="round"/>
<line x1="445.09" y1="73.36" x2="432.95" y2="71.53" stroke="#ffffff" stroke-width="1.05" stroke-linecap="round"/>
<line x1="431.68" y1="102.4" x2="415.13" y2="73.07" stroke="#ffffff" stroke-width="1.05" stroke-linecap="round"/>
<line x1="415.13" y1="73.07" x2="433.46" y2="59.28" stroke="#ffffff" stroke-width="1.05" stroke-linecap="round"/>
<line x1="433.46" y1="59.28" x2="450.22" y2="62.25" stroke="#ffffff" stroke-width="1.05" stroke-linecap="round"/>
<line x1="450.22" y1="62.25" x2="431.68" y2="102.4" stroke="#ffffff" stroke-width="1.05" stroke-linecap="round"/>
<polygon points="396.04,104.14 385.41,87.67 397.46,87.49" fill="#6c6c6c" stroke="#6c6c6c" stroke-width="0.8" />
<polygon points="385.41,87.67 380.50,80.06 391.07,70.75 398.89,70.65 397.46,87.49" fill="#3e3e3e" stroke="#3e3e3e" stroke-width="0.8" />
<polygon points="391.07,70.75 399.52,63.30 398.89,70.65" fill="#8c8c8c" stroke="#8c8c8c" stroke-width="0.8" />
<polygon points="396.04,104.14 397.46,87.49 405.68,88.45" fill="#6c6c6c" stroke="#6c6c6c" stroke-width="0.8" />
<polygon points="397.46,87.49 398.89,70.65 413.52,72.07 415.13,73.07 405.68,88.45" fill="#3e3e3e" stroke="#3e3e3e" stroke-width="0.8" />
<polygon points="398.89,70.65 399.52,63.30 413.52,72.07" fill="#8c8c8c" stroke="#8c8c8c" stroke-width="0.8" />
<line x1="385.41" y1="87.67" x2="397.46" y2="87.49" stroke="#ffffff" stroke-width="1.05" stroke-linecap="round"/>
<line x1="391.07" y1="70.75" x2="398.89" y2="70.65" stroke="#ffffff" stroke-width="1.05" stroke-linecap="round"/>
<line x1="397.46" y1="87.49" x2="385.41" y2="87.67" stroke="#ffffff" stroke-width="1.05" stroke-linecap="round"/>
<line x1="398.89" y1="70.65" x2="391.07" y2="70.75" stroke="#ffffff" stroke-width="1.05" stroke-linecap="round"/>
<line x1="397.46" y1="87.49" x2="405.68" y2="88.45" stroke="#ffffff" stroke-width="1.05" stroke-linecap="round"/>
<line x1="398.89" y1="70.65" x2="413.52" y2="72.07" stroke="#ffffff" stroke-width="1.05" stroke-linecap="round"/>
<line x1="405.68" y1="88.45" x2="397.46" y2="87.49" stroke="#ffffff" stroke-width="1.05" stroke-linecap="round"/>
<line x1="413.52" y1="72.07" x2="398.89" y2="70.65" stroke="#ffffff" stroke-width="1.05" stroke-linecap="round"/>
<line x1="396.04" y1="104.14" x2="380.5" y2="80.06" stroke="#ffffff" stroke-width="1.05" stroke-linecap="round"/>
<line x1="380.5" y1="80.06" x2="399.52" y2="63.3" stroke="#ffffff" stroke-width="1.05" stroke-linecap="round"/>
<line x1="399.52" y1="63.3" x2="415.13" y2="73.07" stroke="#ffffff" stroke-width="1.05" stroke-linecap="round"/>
<line x1="415.13" y1="73.07" x2="396.04" y2="104.14" stroke="#ffffff" stroke-width="1.05" stroke-linecap="round"/>
<polygon points="361.33,133.94 356.17,117.82 362.59,117.23" fill="#3a3a3a" stroke="#3a3a3a" stroke-width="0.8" />
<polygon points="356.17,117.82 351.08,101.90 363.82,100.88 362.59,117.23" fill="#8e8e8e" stroke="#8e8e8e" stroke-width="0.8" />
<polygon points="351.08,101.90 346.30,86.97 347.42,86.09 365.02,84.90 363.82,100.88" fill="#6c6c6c" stroke="#6c6c6c" stroke-width="0.8" />
<polygon points="347.42,86.09 366.02,71.58 365.02,84.90" fill="#444444" stroke="#444444" stroke-width="0.8" />
<polygon points="361.33,133.94 362.59,117.23 366.94,118.18" fill="#3a3a3a" stroke="#3a3a3a" stroke-width="0.8" />
<polygon points="362.59,117.23 363.82,100.88 372.50,102.54 366.94,118.18" fill="#8e8e8e" stroke="#8e8e8e" stroke-width="0.8" />
<polygon points="363.82,100.88 365.02,84.90 378.03,87.02 372.50,102.54" fill="#6c6c6c" stroke="#6c6c6c" stroke-width="0.8" />
<polygon points="365.02,84.90 366.02,71.58 380.50,80.06 378.03,87.02" fill="#444444" stroke="#444444" stroke-width="0.8" />
<line x1="356.17" y1="117.82" x2="362.59" y2="117.23" stroke="#ffffff" stroke-width="1.05" stroke-linecap="round"/>
<line x1="351.08" y1="101.9" x2="363.82" y2="100.88" stroke="#ffffff" stroke-width="1.05" stroke-linecap="round"/>
<line x1="362.59" y1="117.23" x2="356.17" y2="117.82" stroke="#ffffff" stroke-width="1.05" stroke-linecap="round"/>
<line x1="347.42" y1="86.09" x2="365.02" y2="84.9" stroke="#ffffff" stroke-width="1.05" stroke-linecap="round"/>
<line x1="363.82" y1="100.88" x2="351.08" y2="101.9" stroke="#ffffff" stroke-width="1.05" stroke-linecap="round"/>
<line x1="365.02" y1="84.9" x2="347.42" y2="86.09" stroke="#ffffff" stroke-width="1.05" stroke-linecap="round"/>
<line x1="362.59" y1="117.23" x2="366.94" y2="118.18" stroke="#ffffff" stroke-width="1.05" stroke-linecap="round"/>
<line x1="363.82" y1="100.88" x2="372.5" y2="102.54" stroke="#ffffff" stroke-width="1.05" stroke-linecap="round"/>
<line x1="366.94" y1="118.18" x2="362.59" y2="117.23" stroke="#ffffff" stroke-width="1.05" stroke-linecap="round"/>
<line x1="365.02" y1="84.9" x2="378.03" y2="87.02" stroke="#ffffff" stroke-width="1.05" stroke-linecap="round"/>
<line x1="372.5" y1="102.54" x2="363.82" y2="100.88" stroke="#ffffff" stroke-width="1.05" stroke-linecap="round"/>
<line x1="378.03" y1="87.02" x2="365.02" y2="84.9" stroke="#ffffff" stroke-width="1.05" stroke-linecap="round"/>
<line x1="361.33" y1="133.94" x2="346.3" y2="86.97" stroke="#ffffff" stroke-width="1.05" stroke-linecap="round"/>
<line x1="346.3" y1="86.97" x2="366.02" y2="71.58" stroke="#ffffff" stroke-width="1.05" stroke-linecap="round"/>
<line x1="366.02" y1="71.58" x2="380.5" y2="80.06" stroke="#ffffff" stroke-width="1.05" stroke-linecap="round"/>
<line x1="380.5" y1="80.06" x2="361.33" y2="133.94" stroke="#ffffff" stroke-width="1.05" stroke-linecap="round"/>
<polygon points="412.48,139.42 404.36,122.00 413.17,122.07" fill="#3a3a3a" stroke="#3a3a3a" stroke-width="0.8" />
<polygon points="404.36,122.00 396.43,104.98 413.85,105.11 413.17,122.07" fill="#8e8e8e" stroke="#8e8e8e" stroke-width="0.8" />
<polygon points="396.43,104.98 396.04,104.14 405.68,88.45 414.51,88.51 413.85,105.11" fill="#6c6c6c" stroke="#6c6c6c" stroke-width="0.8" />
<polygon points="405.68,88.45 415.13,73.07 414.51,88.51" fill="#3e3e3e" stroke="#3e3e3e" stroke-width="0.8" />
<polygon points="412.48,139.42 413.17,122.07 421.30,122.42" fill="#3a3a3a" stroke="#3a3a3a" stroke-width="0.8" />
<polygon points="413.17,122.07 413.85,105.11 429.97,105.71 421.30,122.42" fill="#8e8e8e" stroke="#8e8e8e" stroke-width="0.8" />
<polygon points="413.85,105.11 414.51,88.51 424.01,88.82 431.68,102.40 429.97,105.71" fill="#6c6c6c" stroke="#6c6c6c" stroke-width="0.8" />
<polygon points="414.51,88.51 415.13,73.07 424.01,88.82" fill="#3e3e3e" stroke="#3e3e3e" stroke-width="0.8" />
<line x1="404.36" y1="122.0" x2="413.17" y2="122.07" stroke="#ffffff" stroke-width="1.05" stroke-linecap="round"/>
<line x1="396.43" y1="104.98" x2="413.85" y2="105.11" stroke="#ffffff" stroke-width="1.05" stroke-linecap="round"/>
<line x1="413.17" y1="122.07" x2="404.36" y2="122.0" stroke="#ffffff" stroke-width="1.05" stroke-linecap="round"/>
<line x1="405.68" y1="88.45" x2="414.51" y2="88.51" stroke="#ffffff" stroke-width="1.05" stroke-linecap="round"/>
<line x1="413.85" y1="105.11" x2="396.43" y2="104.98" stroke="#ffffff" stroke-width="1.05" stroke-linecap="round"/>
<line x1="414.51" y1="88.51" x2="405.68" y2="88.45" stroke="#ffffff" stroke-width="1.05" stroke-linecap="round"/>
<line x1="413.17" y1="122.07" x2="421.3" y2="122.42" stroke="#ffffff" stroke-width="1.05" stroke-linecap="round"/>
<line x1="413.85" y1="105.11" x2="429.97" y2="105.71" stroke="#ffffff" stroke-width="1.05" stroke-linecap="round"/>
<line x1="421.3" y1="122.42" x2="413.17" y2="122.07" stroke="#ffffff" stroke-width="1.05" stroke-linecap="round"/>
<line x1="414.51" y1="88.51" x2="424.01" y2="88.82" stroke="#ffffff" stroke-width="1.05" stroke-linecap="round"/>
<line x1="429.97" y1="105.71" x2="413.85" y2="105.11" stroke="#ffffff" stroke-width="1.05" stroke-linecap="round"/>
<line x1="424.01" y1="88.82" x2="414.51" y2="88.51" stroke="#ffffff" stroke-width="1.05" stroke-linecap="round"/>
<line x1="412.48" y1="139.42" x2="396.04" y2="104.14" stroke="#ffffff" stroke-width="1.05" stroke-linecap="round"/>
<line x1="396.04" y1="104.14" x2="415.13" y2="73.07" stroke="#ffffff" stroke-width="1.05" stroke-linecap="round"/>
<line x1="415.13" y1="73.07" x2="431.68" y2="102.4" stroke="#ffffff" stroke-width="1.05" stroke-linecap="round"/>
<line x1="431.68" y1="102.4" x2="412.48" y2="139.42" stroke="#ffffff" stroke-width="1.05" stroke-linecap="round"/>
<polygon points="376.21,138.74 361.33,133.94 366.94,118.18 377.49,121.18" fill="#232323" stroke="#232323" stroke-width="0.8" />
<polygon points="366.94,118.18 372.50,102.54 378.74,104.08 377.49,121.18" fill="#555555" stroke="#555555" stroke-width="0.8" />
<polygon points="372.50,102.54 378.03,87.02 379.96,87.42 378.74,104.08" fill="#414141" stroke="#414141" stroke-width="0.8" />
<polygon points="378.03,87.02 380.50,80.06 379.96,87.42" fill="#252525" stroke="#252525" stroke-width="0.8" />
<polygon points="376.21,138.74 377.49,121.18 385.98,121.70" fill="#313131" stroke="#313131" stroke-width="0.8" />
<polygon points="377.49,121.18 378.74,104.08 395.57,104.97 385.98,121.70" fill="#797979" stroke="#797979" stroke-width="0.8" />
<polygon points="378.74,104.08 379.96,87.42 385.41,87.67 396.04,104.14 395.57,104.97" fill="#5c5c5c" stroke="#5c5c5c" stroke-width="0.8" />
<polygon points="379.96,87.42 380.50,80.06 385.41,87.67" fill="#353535" stroke="#353535" stroke-width="0.8" />
<line x1="366.94" y1="118.18" x2="377.49" y2="121.18" stroke="#ffffff" stroke-width="1.05" stroke-linecap="round"/>
<line x1="372.5" y1="102.54" x2="378.74" y2="104.08" stroke="#ffffff" stroke-width="1.05" stroke-linecap="round"/>
<line x1="377.49" y1="121.18" x2="366.94" y2="118.18" stroke="#ffffff" stroke-width="1.05" stroke-linecap="round"/>
<line x1="378.03" y1="87.02" x2="379.96" y2="87.42" stroke="#ffffff" stroke-width="1.05" stroke-linecap="round"/>
<line x1="378.74" y1="104.08" x2="372.5" y2="102.54" stroke="#ffffff" stroke-width="1.05" stroke-linecap="round"/>
<line x1="379.96" y1="87.42" x2="378.03" y2="87.02" stroke="#ffffff" stroke-width="1.05" stroke-linecap="round"/>
<line x1="377.49" y1="121.18" x2="385.98" y2="121.7" stroke="#ffffff" stroke-width="1.05" stroke-linecap="round"/>
<line x1="378.74" y1="104.08" x2="395.57" y2="104.97" stroke="#ffffff" stroke-width="1.05" stroke-linecap="round"/>
<line x1="385.98" y1="121.7" x2="377.49" y2="121.18" stroke="#ffffff" stroke-width="1.05" stroke-linecap="round"/>
<line x1="379.96" y1="87.42" x2="385.41" y2="87.67" stroke="#ffffff" stroke-width="1.05" stroke-linecap="round"/>
<line x1="395.57" y1="104.97" x2="378.74" y2="104.08" stroke="#ffffff" stroke-width="1.05" stroke-linecap="round"/>
<line x1="385.41" y1="87.67" x2="379.96" y2="87.42" stroke="#ffffff" stroke-width="1.05" stroke-linecap="round"/>
<line x1="376.21" y1="138.74" x2="361.33" y2="133.94" stroke="#ffffff" stroke-width="1.05" stroke-linecap="round"/>
<line x1="361.33" y1="133.94" x2="380.5" y2="80.06" stroke="#ffffff" stroke-width="1.05" stroke-linecap="round"/>
<line x1="380.5" y1="80.06" x2="396.04" y2="104.14" stroke="#ffffff" stroke-width="1.05" stroke-linecap="round"/>
<line x1="396.04" y1="104.14" x2="376.21" y2="138.74" stroke="#ffffff" stroke-width="1.05" stroke-linecap="round"/>
<line x1="376.21" y1="138.74" x2="380.5" y2="80.06" stroke="#ffffff" stroke-width="1.05" stroke-linecap="round"/>
<polygon points="392.12,143.88 376.21,138.74 385.98,121.70 394.09,123.96" fill="#2c2c2c" stroke="#2c2c2c" stroke-width="0.8" />
<polygon points="385.98,121.70 395.57,104.97 395.95,105.06 394.09,123.96" fill="#6a6a6a" stroke="#6a6a6a" stroke-width="0.8" />
<polygon points="395.57,104.97 396.04,104.14 395.95,105.06" fill="#515151" stroke="#515151" stroke-width="0.8" />
<polygon points="392.12,143.88 394.09,123.96 404.36,122.00 412.48,139.42" fill="#707070" stroke="#707070" stroke-width="0.8" />
<polygon points="394.09,123.96 395.95,105.06 396.43,104.98 404.36,122.00" fill="#b2b2b2" stroke="#b2b2b2" stroke-width="0.8" />
<polygon points="395.95,105.06 396.04,104.14 396.43,104.98" fill="#909090" stroke="#909090" stroke-width="0.8" />
<line x1="385.98" y1="121.7" x2="394.09" y2="123.96" stroke="#ffffff" stroke-width="1.05" stroke-linecap="round"/>
<line x1="395.57" y1="104.97" x2="395.95" y2="105.06" stroke="#ffffff" stroke-width="1.05" stroke-linecap="round"/>
<line x1="394.09" y1="123.96" x2="385.98" y2="121.7" stroke="#ffffff" stroke-width="1.05" stroke-linecap="round"/>
<line x1="395.95" y1="105.06" x2="395.57" y2="104.97" stroke="#ffffff" stroke-width="1.05" stroke-linecap="round"/>
<line x1="394.09" y1="123.96" x2="404.36" y2="122.0" stroke="#ffffff" stroke-width="1.05" stroke-linecap="round"/>
<line x1="395.95" y1="105.06" x2="396.43" y2="104.98" stroke="#ffffff" stroke-width="1.05" stroke-linecap="round"/>
<line x1="404.36" y1="122.0" x2="394.09" y2="123.96" stroke="#ffffff" stroke-width="1.05" stroke-linecap="round"/>
<line x1="396.43" y1="104.98" x2="395.95" y2="105.06" stroke="#ffffff" stroke-width="1.05" stroke-linecap="round"/>
<line x1="392.12" y1="143.88" x2="376.21" y2="138.74" stroke="#ffffff" stroke-width="1.05" stroke-linecap="round"/>
<line x1="376.21" y1="138.74" x2="396.04" y2="104.14" stroke="#ffffff" stroke-width="1.05" stroke-linecap="round"/>
<line x1="396.04" y1="104.14" x2="412.48" y2="139.42" stroke="#ffffff" stroke-width="1.05" stroke-linecap="round"/>
<line x1="412.48" y1="139.42" x2="392.12" y2="143.88" stroke="#ffffff" stroke-width="1.05" stroke-linecap="round"/>
<line x1="392.12" y1="143.88" x2="396.04" y2="104.14" stroke="#ffffff" stroke-width="1.05" stroke-linecap="round"/>
<polygon points="347.80,191.30 400.00,184.30 400.00,263.30 348.80,279.50" fill="#8c8c8c" stroke="#000" stroke-width="0.8" />
<defs><linearGradient id="bw" x1="0" y1="0" x2="0" y2="1"><stop offset="0" stop-color="#d9d9d9"/><stop offset="0.6" stop-color="#e2e2e2"/><stop offset="1" stop-color="#f6f6f6"/></linearGradient></defs>
<polygon points="400.00,184.30 505.00,188.75 504.50,277.40 400.00,263.30" fill="url(#bw)" stroke="#000" stroke-width="0.8" />
<polygon points="348.80,279.50 400.00,263.30 504.50,277.40 462.80,296.50" fill="#c2c2c2" stroke="#000" stroke-width="0.8" />
<polyline points="348,264.6 400,250 504.2,261.3 462.8,280.1 348,264.6" fill="none" stroke="#000" stroke-width="0.9"/>
<line x1="462.8" y1="280.1" x2="462.8" y2="296.5" stroke="#000" stroke-width="0.9" />
<line x1="345" y1="191" x2="348" y2="191" stroke="#000" stroke-width="0.9" />
<text x="341.8" y="194.0" font-size="8.4" text-anchor="end" font-weight="normal" font-style="normal" fill="#111" >1</text>
<line x1="345" y1="206" x2="348" y2="206" stroke="#000" stroke-width="0.9" />
<text x="341.8" y="209.0" font-size="8.4" text-anchor="end" font-weight="normal" font-style="normal" fill="#111" >0.8</text>
<line x1="345" y1="220.8" x2="348" y2="220.8" stroke="#000" stroke-width="0.9" />
<text x="341.8" y="223.8" font-size="8.4" text-anchor="end" font-weight="normal" font-style="normal" fill="#111" >0.6</text>
<line x1="345" y1="235.4" x2="348" y2="235.4" stroke="#000" stroke-width="0.9" />
<text x="341.8" y="238.4" font-size="8.4" text-anchor="end" font-weight="normal" font-style="normal" fill="#111" >0.4</text>
<line x1="345" y1="250.4" x2="348" y2="250.4" stroke="#000" stroke-width="0.9" />
<text x="341.8" y="253.4" font-size="8.4" text-anchor="end" font-weight="normal" font-style="normal" fill="#111" >0.2</text>
<line x1="345" y1="265.1" x2="348" y2="265.1" stroke="#000" stroke-width="0.9" />
<text x="341.8" y="268.1" font-size="8.4" text-anchor="end" font-weight="normal" font-style="normal" fill="#111" >0</text>
<line x1="345" y1="279.7" x2="348" y2="279.7" stroke="#000" stroke-width="0.9" />
<text x="341.8" y="282.7" font-size="8.4" text-anchor="end" font-weight="normal" font-style="normal" fill="#111" >-0.2</text>
<text x="312.3" y="232.3" font-size="8.9" text-anchor="middle" font-weight="normal" font-style="normal" fill="#111" transform="rotate(-90 312.3 232.3)" >Relative deviation</text>
<text x="324.6" y="232" font-size="9.0" text-anchor="middle" font-weight="normal" font-style="normal" fill="#111" transform="rotate(-90 324.6 232)" >from BLISS additivity</text>
<line x1="376.7" y1="268.475" x2="376.7" y2="270.975" stroke="#000" stroke-width="0.9" />
<line x1="405.4" y1="272.35" x2="405.4" y2="274.85" stroke="#000" stroke-width="0.9" />
<line x1="434.1" y1="276.225" x2="434.1" y2="278.725" stroke="#000" stroke-width="0.9" />
<line x1="476.6" y1="273.83333333333337" x2="477.6" y2="276.6333333333334" stroke="#000" stroke-width="0.9" />
<line x1="490.4" y1="267.56666666666666" x2="491.4" y2="270.3666666666667" stroke="#000" stroke-width="0.9" />
<text x="359.75" y="277.0375" font-size="8.3" text-anchor="middle" font-weight="normal" font-style="normal" fill="#111" transform="rotate(7 359.75 277.0375)" >156</text>
<text x="388.45" y="280.9125" font-size="8.3" text-anchor="middle" font-weight="normal" font-style="normal" fill="#111" transform="rotate(7 388.45 280.9125)" >39</text>
<text x="417.15" y="284.7875" font-size="8.3" text-anchor="middle" font-weight="normal" font-style="normal" fill="#111" transform="rotate(7 417.15 284.7875)" >10</text>
<text x="445.84999999999997" y="288.6625" font-size="8.3" text-anchor="middle" font-weight="normal" font-style="normal" fill="#111" transform="rotate(7 445.84999999999997 288.6625)" >2</text>
<text x="471.20000000000005" y="286.4666666666667" font-size="8.3" text-anchor="middle" font-weight="normal" font-style="normal" fill="#111" transform="rotate(-20 471.20000000000005 286.4666666666667)" >39</text>
<text x="485.0" y="280.20000000000005" font-size="8.3" text-anchor="middle" font-weight="normal" font-style="normal" fill="#111" transform="rotate(-20 485.0 280.20000000000005)" >10</text>
<text x="498.8" y="273.93333333333334" font-size="8.3" text-anchor="middle" font-weight="normal" font-style="normal" fill="#111" transform="rotate(-20 498.8 273.93333333333334)" >2</text>
<text x="398.8" y="300.9" font-size="8.8" text-anchor="middle" font-weight="normal" font-style="italic" fill="#111" transform="rotate(13.5 398.8 300.9)" >SGI-1776 nM</text>
<text x="487.5" y="296" font-size="9.4" text-anchor="middle" font-weight="normal" font-style="normal" fill="#111" transform="rotate(-25 487.5 296)" >Palbociclib nM</text>
<polygon points="395.21,254.36 406.68,255.68 413.87,253.48 402.56,252.22" fill="#7a7a7a" stroke="#111" stroke-width="1.0" />
<line x1="395.2109179166667" y1="254.3561129166667" x2="413.86575125" y2="253.47819625" stroke="#1a1a1a" stroke-width="0.8" />
<line x1="406.68399875" y1="255.67847041666667" x2="402.55599874999996" y2="252.22055374999997" stroke="#1a1a1a" stroke-width="0.8" />
<polygon points="421.89,257.43 433.37,258.75 440.17,256.40 428.86,255.15" fill="#7a7a7a" stroke="#111" stroke-width="1.0" />
<line x1="421.89250125" y1="257.43136291666667" x2="440.16750125000004" y2="256.40294625" stroke="#1a1a1a" stroke-width="0.8" />
<line x1="433.3655820833334" y1="258.7537204166667" x2="428.85774875" y2="255.14530375" stroke="#1a1a1a" stroke-width="0.8" />
<polygon points="448.57,260.51 460.05,261.83 457.56,236.53" fill="#858585" stroke="#222" stroke-width="0.5" />
<polygon points="460.05,261.83 466.47,259.33 457.56,236.53" fill="#444444" stroke="#222" stroke-width="0.5" />
<polygon points="475.26,263.58 486.73,264.90 484.05,232.69" fill="#858585" stroke="#222" stroke-width="0.5" />
<polygon points="486.73,264.90 492.77,262.25 484.05,232.69" fill="#444444" stroke="#222" stroke-width="0.5" />
<polygon points="378.13,259.32 389.98,260.80 397.16,258.60 385.47,257.19" fill="#a0a0a0" stroke="#111" stroke-width="1.0" />
<line x1="378.12933458333333" y1="259.32252958333333" x2="397.16400125" y2="258.59511291666666" stroke="#1a1a1a" stroke-width="0.8" />
<line x1="389.98224875000005" y1="260.7953870833333" x2="385.47441541666666" y2="257.18697041666667" stroke="#1a1a1a" stroke-width="0.8" />
<polygon points="405.69,262.75 417.55,264.22 424.35,261.87 412.66,260.46" fill="#a0a0a0" stroke="#111" stroke-width="1.0" />
<line x1="405.69425125" y1="262.74777958333334" x2="424.3490845833333" y2="261.86986291666665" stroke="#1a1a1a" stroke-width="0.8" />
<line x1="417.5471654166667" y1="264.2206370833334" x2="412.65949874999995" y2="260.46172041666665" stroke="#1a1a1a" stroke-width="0.8" />
<polygon points="433.26,266.17 445.11,267.65 442.44,231.48" fill="#c6c6c6" stroke="#222" stroke-width="0.5" />
<polygon points="445.11,267.65 451.53,265.14 442.44,231.48" fill="#606060" stroke="#222" stroke-width="0.5" />
<polygon points="460.82,269.60 472.68,271.07 469.81,216.40" fill="#c6c6c6" stroke="#222" stroke-width="0.5" />
<polygon points="472.68,271.07 478.72,268.42 469.81,216.40" fill="#606060" stroke="#222" stroke-width="0.5" />
<polygon points="361.05,264.29 373.28,265.91 380.46,263.71 368.39,262.15" fill="#7a7a7a" stroke="#111" stroke-width="1.0" />
<line x1="361.04775125000003" y1="264.28894625" x2="380.46225125000007" y2="263.7120295833334" stroke="#1a1a1a" stroke-width="0.8" />
<line x1="373.28049875" y1="265.91230375000004" x2="368.3928320833334" y2="262.15338708333337" stroke="#1a1a1a" stroke-width="0.8" />
<polygon points="389.50,268.06 401.73,269.69 408.53,267.34 396.46,265.78" fill="#7a7a7a" stroke="#111" stroke-width="1.0" />
<line x1="389.49600125" y1="268.06419625" x2="408.53066791666674" y2="267.3367795833334" stroke="#1a1a1a" stroke-width="0.8" />
<line x1="401.72874875" y1="269.68755375" x2="396.46124875" y2="265.7781370833334" stroke="#1a1a1a" stroke-width="0.8" />
<polygon points="417.94,271.84 430.18,273.46 427.31,259.84" fill="#727272" stroke="#222" stroke-width="0.5" />
<polygon points="430.18,273.46 436.60,270.96 427.31,259.84" fill="#383838" stroke="#222" stroke-width="0.5" />
<polygon points="446.39,275.61 458.63,277.24 455.57,258.49" fill="#727272" stroke="#222" stroke-width="0.5" />
<polygon points="458.63,277.24 464.67,274.59 455.57,258.49" fill="#383838" stroke="#222" stroke-width="0.5" />
<text transform="translate(308.3 352.9) rotate(0) scale(0.86 1)" font-size="11.6" text-anchor="start" font-style="normal" font-weight="bold" fill="#000">E</text>
<rect x="347" y="363.75" width="150.5" height="132.25" fill="none" stroke="#111" stroke-width="1.3" />
<line x1="343.5" y1="363.75" x2="347" y2="363.75" stroke="#000" stroke-width="1" />
<text x="341.8" y="366.75" font-size="8.4" text-anchor="end" font-weight="normal" font-style="normal" fill="#111" >1.5</text>
<line x1="343.5" y1="407.7" x2="347" y2="407.7" stroke="#000" stroke-width="1" />
<text x="341.8" y="410.7" font-size="8.4" text-anchor="end" font-weight="normal" font-style="normal" fill="#111" >1.0</text>
<line x1="343.5" y1="451.85" x2="347" y2="451.85" stroke="#000" stroke-width="1" />
<text x="341.8" y="454.85" font-size="8.4" text-anchor="end" font-weight="normal" font-style="normal" fill="#111" >0.5</text>
<line x1="343.5" y1="496.0" x2="347" y2="496.0" stroke="#000" stroke-width="1" />
<text x="341.8" y="499.0" font-size="8.4" text-anchor="end" font-weight="normal" font-style="normal" fill="#111" >0.0</text>
<line x1="368.5" y1="496" x2="368.5" y2="499.5" stroke="#000" stroke-width="1" />
<text x="367.0" y="511" font-size="9" text-anchor="middle" font-weight="normal" font-style="normal" fill="#111" >10<tspan font-size="6" dy="-4">0</tspan></text>
<line x1="411.4" y1="496" x2="411.4" y2="499.5" stroke="#000" stroke-width="1" />
<text x="409.9" y="511" font-size="9" text-anchor="middle" font-weight="normal" font-style="normal" fill="#111" >10<tspan font-size="6" dy="-4">1</tspan></text>
<line x1="454.3" y1="496" x2="454.3" y2="499.5" stroke="#000" stroke-width="1" />
<text x="452.8" y="511" font-size="9" text-anchor="middle" font-weight="normal" font-style="normal" fill="#111" >10<tspan font-size="6" dy="-4">2</tspan></text>
<line x1="497.2" y1="496" x2="497.2" y2="499.5" stroke="#000" stroke-width="1" />
<text x="495.7" y="511" font-size="9" text-anchor="middle" font-weight="normal" font-style="normal" fill="#111" >10<tspan font-size="6" dy="-4">3</tspan></text>
<text x="423.5" y="523" font-size="9.0" text-anchor="middle" font-weight="normal" font-style="normal" fill="#111" >SGI-1776 (nM)</text>
<text x="324.2" y="430" font-size="9.4" text-anchor="middle" font-weight="normal" font-style="normal" fill="#111" transform="rotate(-90 324.2 430)" >Viability relative to vehicle</text>
<polyline points="359.06,408.34 360.15,408.41 361.24,408.48 362.33,408.55 363.42,408.63 364.51,408.72 365.59,408.82 366.68,408.93 367.77,409.05 368.86,409.18 369.95,409.32 371.04,409.48 372.13,409.65 373.22,409.84 374.30,410.04 375.39,410.26 376.48,410.51 377.57,410.77 378.66,411.06 379.75,411.38 380.84,411.72 381.93,412.10 383.01,412.51 384.10,412.95 385.19,413.44 386.28,413.96 387.37,414.53 388.46,415.14 389.55,415.81 390.63,416.53 391.72,417.30 392.81,418.14 393.90,419.04 394.99,420.00 396.08,421.03 397.17,422.14 398.26,423.31 399.34,424.56 400.43,425.89 401.52,427.30 402.61,428.78 403.70,430.34 404.79,431.98 405.88,433.70 406.97,435.48 408.05,437.33 409.14,439.25 410.23,441.22 411.32,443.25 412.41,445.32 413.50,447.43 414.59,449.56 415.68,451.72 416.76,453.88 417.85,456.05 418.94,458.20 420.03,460.34 421.12,462.46 422.21,464.53 423.30,466.57 424.39,468.55 425.47,470.48 426.56,472.34 427.65,474.13 428.74,475.86 429.83,477.51 430.92,479.08 432.01,480.58 433.10,482.00 434.18,483.34 435.27,484.60 436.36,485.79 437.45,486.91 438.54,487.95 439.63,488.93 440.72,489.83 441.80,490.68 442.89,491.46 443.98,492.19 445.07,492.87 446.16,493.49 447.25,494.07 448.34,494.60 449.43,495.09 450.51,495.54 451.60,495.95 452.69,496.00 453.78,496.00 454.87,496.00 455.96,496.00 457.05,496.00 458.14,496.00 459.22,496.00 460.31,496.00 461.40,496.00 462.49,496.00 463.58,496.00 464.67,496.00 465.76,496.00 466.85,496.00 467.93,496.00 469.02,496.00 470.11,496.00 471.20,496.00 472.29,496.00 473.38,496.00 474.47,496.00 475.56,496.00 476.64,496.00 477.73,496.00 478.82,496.00 479.91,496.00 481.00,496.00 482.09,496.00 483.18,496.00 484.27,496.00 485.35,496.00 486.44,496.00 487.53,496.00 488.62,496.00" fill="none" stroke="#000" stroke-width="1.4"/>
<polyline points="359.06,414.47 360.15,415.14 361.24,415.87 362.33,416.65 363.42,417.51 364.51,418.43 365.59,419.43 366.68,420.50 367.77,421.66 368.86,422.89 369.95,424.21 371.04,425.62 372.13,427.11 373.22,428.69 374.30,430.35 375.39,432.09 376.48,433.92 377.57,435.81 378.66,437.78 379.75,439.80 380.84,441.88 381.93,444.00 383.01,446.15 384.10,448.33 385.19,450.52 386.28,452.71 387.37,454.88 388.46,457.04 389.55,459.16 390.63,461.23 391.72,463.26 392.81,465.22 393.90,467.12 394.99,468.94 396.08,470.69 397.17,472.35 398.26,473.93 399.34,475.42 400.43,476.83 401.52,478.15 402.61,479.39 403.70,480.54 404.79,481.62 405.88,482.61 406.97,483.54 408.05,484.39 409.14,485.18 410.23,485.91 411.32,486.57 412.41,487.18 413.50,487.74 414.59,488.26 415.68,488.72 416.76,489.15 417.85,489.54 418.94,489.90 420.03,490.22 421.12,490.52 422.21,490.78 423.30,491.03 424.39,491.25 425.47,491.45 426.56,491.63 427.65,491.79 428.74,491.94 429.83,492.08 430.92,492.20 432.01,492.31 433.10,492.41 434.18,492.50 435.27,492.58 436.36,492.66 437.45,492.72 438.54,492.78 439.63,492.84 440.72,492.89 441.80,492.93 442.89,492.97 443.98,493.01 445.07,493.04 446.16,493.07 447.25,493.10 448.34,493.12 449.43,493.15 450.51,493.17 451.60,493.18 452.69,493.20 453.78,493.21 454.87,493.23 455.96,493.24 457.05,493.25 458.14,493.26 459.22,493.27 460.31,493.28 461.40,493.28 462.49,493.29 463.58,493.30 464.67,493.30 465.76,493.31 466.85,493.31 467.93,493.31 469.02,493.32 470.11,493.32 471.20,493.32 472.29,493.33 473.38,493.33 474.47,493.33 475.56,493.33 476.64,493.34 477.73,493.34 478.82,493.34 479.91,493.34 481.00,493.34 482.09,493.34 483.18,493.34 484.27,493.34 485.35,493.34 486.44,493.34 487.53,493.35 488.62,493.35" fill="none" stroke="#000" stroke-width="1.4" stroke-dasharray="3.2,2"/>
<circle cx="358.98" cy="407.70" r="2.6" fill="#000"/>
<line x1="384.8110622694279" y1="430.2165" x2="384.8110622694279" y2="418.7375" stroke="#000" stroke-width="1" />
<line x1="381.41106226942793" y1="430.2165" x2="388.2110622694279" y2="430.2165" stroke="#000" stroke-width="1" />
<line x1="381.41106226942793" y1="418.7375" x2="388.2110622694279" y2="418.7375" stroke="#000" stroke-width="1" />
<circle cx="384.81" cy="424.48" r="2.6" fill="#000"/>
<line x1="411.023598647208" y1="449.6425" x2="411.023598647208" y2="434.19" stroke="#000" stroke-width="1" />
<line x1="407.62359864720804" y1="449.6425" x2="414.423598647208" y2="449.6425" stroke="#000" stroke-width="1" />
<line x1="407.62359864720804" y1="434.19" x2="414.423598647208" y2="434.19" stroke="#000" stroke-width="1" />
<circle cx="411.02" cy="442.14" r="2.6" fill="#000"/>
<circle cx="436.76" cy="491.58" r="2.6" fill="#000"/>
<circle cx="462.59" cy="494.94" r="2.6" fill="#000"/>
<circle cx="488.44" cy="495.74" r="2.6" fill="#000"/>
<circle cx="384.81" cy="452.73" r="2.3" fill="#fff" stroke="#000" stroke-width="1"/>
<circle cx="411.02" cy="481.43" r="2.3" fill="#fff" stroke="#000" stroke-width="1"/>
<line x1="442.5" y1="372" x2="453.5" y2="372" stroke="#000" stroke-width="1.2" />
<circle cx="448" cy="372" r="2.6" fill="#000"/>
<text x="456.3" y="374.8" font-size="7.8" text-anchor="start" font-weight="normal" font-style="normal" fill="#111" >Vehicle</text>
<line x1="442.5" y1="383.3" x2="453.5" y2="383.3" stroke="#000" stroke-width="1.2" stroke-dasharray="2.5,1.2"/>
<circle cx="448" cy="383.3" r="2.3" fill="#fff" stroke="#000" stroke-width="1"/>
<text x="456.3" y="386.1" font-size="7.8" text-anchor="start" font-weight="normal" font-style="normal" fill="#111" >Palbociclib</text>
</svg>
</body></html>
